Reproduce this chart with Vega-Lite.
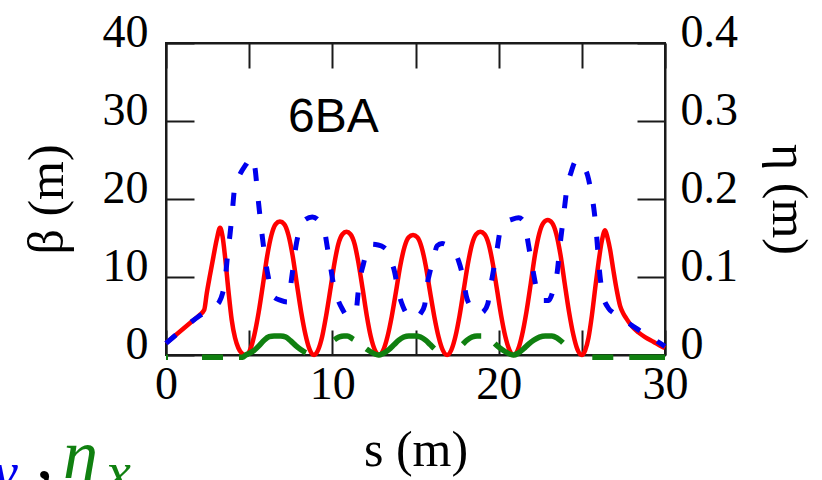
{
  "$schema": "https://vega.github.io/schema/vega-lite/v6.json",
  "width": 499,
  "height": 312,
  "autosize": {"type": "none"},
  "padding": {"left": 166, "top": 43, "right": 157, "bottom": 125},
  "background": "white",
  "config": {
    "view": {"stroke": "#1a1a1a", "strokeWidth": 2},
    "axis": {
      "domainColor": "#1a1a1a", "domainWidth": 2,
      "tickColor": "#1a1a1a", "tickWidth": 2, "grid": false,
      "labelFont": "Liberation Serif", "labelFontSize": 46, "labelColor": "#000",
      "titleFont": "Liberation Serif", "titleFontSize": 50, "titleFontWeight": "normal", "titleColor": "#000",
      "labelOverlap": false, "labelFlush": false
    }
  },
  "datasets": {
    "bx": [
      {"s":0,"b":1.5},{"s":0.5,"b":2.4},{"s":1.0,"b":3.3},{"s":1.5,"b":4.2},{"s":2.0,"b":5.1},{"s":2.3,"b":5.8},{"s":2.45,"b":7.9},{"s":2.65,"b":10.3},{"s":2.85,"b":12.6},{"s":3.05,"b":14.8},{"s":3.25,"b":16.3},{"s":3.4,"b":15.2},{"s":3.55,"b":12.6},{"s":3.75,"b":8.3},{"s":3.95,"b":4.5},{"s":4.15,"b":2.2},{"s":4.35,"b":0.9},{"s":4.55,"b":0.25},{"s":4.8,"b":0},
      {"s":5.06,"b":0.68},{"s":5.31,"b":2.57},{"s":5.57,"b":5.47},{"s":5.83,"b":9.06},{"s":6.08,"b":12.65},{"s":6.34,"b":15.39},{"s":6.59,"b":16.76},{"s":6.85,"b":17.1},{"s":7.11,"b":16.76},{"s":7.36,"b":15.39},{"s":7.62,"b":12.65},{"s":7.87,"b":9.06},{"s":8.13,"b":5.47},{"s":8.39,"b":2.57},{"s":8.64,"b":0.68},{"s":8.9,"b":0},
      {"s":9.14,"b":0.63},{"s":9.39,"b":2.37},{"s":9.63,"b":5.06},{"s":9.88,"b":8.37},{"s":10.12,"b":11.69},{"s":10.36,"b":14.22},{"s":10.61,"b":15.48},{"s":10.85,"b":15.8},{"s":11.09,"b":15.48},{"s":11.34,"b":14.22},{"s":11.58,"b":11.69},{"s":11.83,"b":8.37},{"s":12.07,"b":5.06},{"s":12.31,"b":2.37},{"s":12.56,"b":0.63},{"s":12.8,"b":0},
      {"s":13.06,"b":0.62},{"s":13.31,"b":2.31},{"s":13.57,"b":4.93},{"s":13.83,"b":8.16},{"s":14.08,"b":11.4},{"s":14.34,"b":13.86},{"s":14.59,"b":15.09},{"s":14.85,"b":15.4},{"s":15.11,"b":15.09},{"s":15.36,"b":13.86},{"s":15.62,"b":11.4},{"s":15.87,"b":8.16},{"s":16.13,"b":4.93},{"s":16.39,"b":2.31},{"s":16.64,"b":0.62},{"s":16.9,"b":0},
      {"s":17.15,"b":0.63},{"s":17.4,"b":2.37},{"s":17.65,"b":5.06},{"s":17.9,"b":8.37},{"s":18.15,"b":11.69},{"s":18.4,"b":14.22},{"s":18.65,"b":15.48},{"s":18.9,"b":15.8},{"s":19.15,"b":15.48},{"s":19.4,"b":14.22},{"s":19.65,"b":11.69},{"s":19.9,"b":8.37},{"s":20.15,"b":5.06},{"s":20.4,"b":2.37},{"s":20.65,"b":0.63},{"s":20.9,"b":0},
      {"s":21.16,"b":0.69},{"s":21.41,"b":2.6},{"s":21.67,"b":5.54},{"s":21.93,"b":9.17},{"s":22.18,"b":12.8},{"s":22.44,"b":15.57},{"s":22.69,"b":16.95},{"s":22.95,"b":17.3},{"s":23.21,"b":16.95},{"s":23.46,"b":15.57},{"s":23.72,"b":12.8},{"s":23.97,"b":9.17},{"s":24.23,"b":5.54},{"s":24.49,"b":2.6},{"s":24.74,"b":0.69},{"s":25.0,"b":0},
      {"s":25.2,"b":0.6},{"s":25.4,"b":2.2},{"s":25.6,"b":5.0},{"s":25.8,"b":8.5},{"s":26.0,"b":11.8},{"s":26.2,"b":14.6},{"s":26.4,"b":16.0},{"s":26.55,"b":15.0},{"s":26.7,"b":13.5},{"s":26.9,"b":10.8},{"s":27.1,"b":8.3},{"s":27.3,"b":6.3},{"s":27.5,"b":5.3},{"s":27.7,"b":4.6},{"s":28.0,"b":3.7},{"s":28.4,"b":2.9},{"s":28.8,"b":2.3},{"s":29.3,"b":1.7},{"s":29.8,"b":1.1},{"s":30.0,"b":0.9}
    ],
    "by": [
      {"s":0,"b":1.5},{"s":0.5,"b":2.4},{"s":1.0,"b":3.3},{"s":1.5,"b":4.2},{"s":2.0,"b":5.0},{"s":2.5,"b":5.7},{"s":2.95,"b":6.3},{"s":3.2,"b":6.8},{"s":3.4,"b":7.9},{"s":3.55,"b":9.5},{"s":3.7,"b":12.8},{"s":3.85,"b":15.5},{"s":3.97,"b":18.0},{"s":4.15,"b":21.8},{"s":4.45,"b":23.2},{"s":4.8,"b":24.4},{"s":5.15,"b":25.4},{"s":5.35,"b":24.0},{"s":5.5,"b":20.8},{"s":5.65,"b":17.8},{"s":5.8,"b":15.0},{"s":6.0,"b":11.8},{"s":6.15,"b":10.0},{"s":6.4,"b":7.6},{"s":6.9,"b":7.0},{"s":7.3,"b":6.8},{"s":7.45,"b":8.3},{"s":7.6,"b":10.6},{"s":7.8,"b":13.8},{"s":8.05,"b":16.2},{"s":8.4,"b":17.4},{"s":8.8,"b":17.7},{"s":9.2,"b":17.2},{"s":9.5,"b":16.2},{"s":9.7,"b":13.8},{"s":9.9,"b":11.2},{"s":10.1,"b":8.7},{"s":10.3,"b":7.3},{"s":10.6,"b":5.9},{"s":10.9,"b":5.0},{"s":11.2,"b":5.2},{"s":11.45,"b":6.0},{"s":11.55,"b":8.0},{"s":11.7,"b":10.2},{"s":11.85,"b":11.5},{"s":12.05,"b":13.2},{"s":12.3,"b":14.2},{"s":12.75,"b":14.1},{"s":13.1,"b":13.8},{"s":13.35,"b":13.2},{"s":13.55,"b":12.0},{"s":13.75,"b":10.6},{"s":13.95,"b":8.3},{"s":14.25,"b":6.2},{"s":14.6,"b":5.0},{"s":15.0,"b":4.7},{"s":15.3,"b":5.3},{"s":15.55,"b":6.4},{"s":15.7,"b":9.0},{"s":15.85,"b":10.5},{"s":16.05,"b":12.0},{"s":16.3,"b":14.0},{"s":16.6,"b":14.3},{"s":16.95,"b":14.0},{"s":17.2,"b":13.6},{"s":17.4,"b":13.0},{"s":17.6,"b":12.0},{"s":17.85,"b":10.0},{"s":18.05,"b":7.6},{"s":18.4,"b":6.0},{"s":18.8,"b":5.3},{"s":19.1,"b":5.6},{"s":19.35,"b":6.6},{"s":19.5,"b":8.6},{"s":19.7,"b":11.0},{"s":19.9,"b":13.5},{"s":20.1,"b":16.0},{"s":20.4,"b":17.0},{"s":20.8,"b":17.4},{"s":21.2,"b":17.6},{"s":21.45,"b":17.3},{"s":21.65,"b":15.8},{"s":21.85,"b":13.4},{"s":22.05,"b":11.0},{"s":22.3,"b":8.3},{"s":22.6,"b":7.0},{"s":23.0,"b":7.0},{"s":23.3,"b":8.5},{"s":23.5,"b":10.3},{"s":23.7,"b":14.3},{"s":23.9,"b":17.8},{"s":24.1,"b":21.3},{"s":24.35,"b":23.4},{"s":24.7,"b":25.0},{"s":25.05,"b":24.3},{"s":25.35,"b":23.0},{"s":25.55,"b":21.0},{"s":25.75,"b":18.3},{"s":25.9,"b":15.0},{"s":26.05,"b":11.0},{"s":26.25,"b":7.8},{"s":26.6,"b":6.0},{"s":26.9,"b":5.4},{"s":27.4,"b":4.6},{"s":28.0,"b":3.8},{"s":28.5,"b":3.1},{"s":29.0,"b":2.5},{"s":29.5,"b":1.8},{"s":30.0,"b":1.1}
    ],
    "eta": [
      {"s":0,"e":-0.003},{"s":4.6,"e":-0.003},{"s":4.8,"e":0},{"s":5.0,"e":0.002},{"s":5.3,"e":0.006},{"s":5.6,"e":0.012},{"s":5.9,"e":0.019},{"s":6.2,"e":0.0235},{"s":6.5,"e":0.0245},{"s":6.9,"e":0.0245},{"s":7.2,"e":0.023},{"s":7.5,"e":0.018},{"s":7.8,"e":0.012},{"s":8.1,"e":0.007},{"s":8.4,"e":0.003},{"s":8.65,"e":0.001},{"s":8.9,"e":0},
      {"s":9.15,"e":0.002},{"s":9.5,"e":0.007},{"s":9.8,"e":0.013},{"s":10.1,"e":0.019},{"s":10.4,"e":0.023},{"s":10.7,"e":0.0245},{"s":10.9,"e":0.0245},{"s":11.2,"e":0.021},{"s":11.5,"e":0.017},{"s":11.8,"e":0.012},{"s":12.1,"e":0.007},{"s":12.4,"e":0.003},{"s":12.6,"e":0.001},{"s":12.8,"e":0},
      {"s":13.05,"e":0.002},{"s":13.4,"e":0.007},{"s":13.7,"e":0.013},{"s":14.0,"e":0.019},{"s":14.3,"e":0.023},{"s":14.6,"e":0.0245},{"s":15.0,"e":0.0245},{"s":15.3,"e":0.023},{"s":15.6,"e":0.019},{"s":15.9,"e":0.013},{"s":16.2,"e":0.007},{"s":16.5,"e":0.003},{"s":16.7,"e":0.001},{"s":16.9,"e":0},
      {"s":17.15,"e":0.002},{"s":17.5,"e":0.007},{"s":17.8,"e":0.013},{"s":18.1,"e":0.019},{"s":18.4,"e":0.023},{"s":18.7,"e":0.0245},{"s":19.0,"e":0.0245},{"s":19.3,"e":0.023},{"s":19.6,"e":0.018},{"s":19.9,"e":0.012},{"s":20.2,"e":0.007},{"s":20.5,"e":0.003},{"s":20.7,"e":0.001},{"s":20.9,"e":0},
      {"s":21.15,"e":0.002},{"s":21.5,"e":0.008},{"s":21.8,"e":0.014},{"s":22.1,"e":0.019},{"s":22.45,"e":0.023},{"s":22.8,"e":0.0245},{"s":23.2,"e":0.0245},{"s":23.5,"e":0.022},{"s":23.8,"e":0.017},{"s":24.1,"e":0.011},{"s":24.4,"e":0.006},{"s":24.7,"e":0.002},{"s":25.0,"e":0},{"s":25.2,"e":-0.003},{"s":30,"e":-0.003}
    ],
    "label6ba": [{"s":7.34,"b":28.6,"t":"6BA"}],
    "etaSym": [{"s":-6.19,"b":-15.77,"t":"η"}],
    "etaSub": [{"s":-3.61,"b":-17.4,"t":"x"}],
    "comma": [{"s":-7.82,"b":-15.77,"t":","}],
    "ySub": [{"s":-8.9,"b":-17.4,"t":"y"}]
  },
  "layer": [
    {
      "data": {"name": "bx"},
      "mark": {"type": "line", "color": "#ff0000", "strokeWidth": 4.5, "interpolate": "monotone"},
      "encoding": {
        "x": {"field": "s", "type": "quantitative", "scale": {"domain": [0, 30], "nice": false},
          "axis": {"orient": "bottom", "values": [0,5,10,15,20,25,30], "labelExpr": "datum.value % 10 === 0 ? datum.label : ''", "tickSize": -25, "labelPadding": 32, "title": "s (m)", "titlePadding": 18}},
        "y": {"field": "b", "type": "quantitative", "scale": {"domain": [0, 40], "nice": false},
          "axis": {"orient": "left", "values": [0,10,20,30,40], "tickSize": -28, "labelPadding": 46, "labelBaseline": "alphabetic", "labelOffset": 3, "title": "β (m)", "titlePadding": 30}}
      }
    },
    {
      "data": {"name": "by"},
      "mark": {"type": "line", "color": "#0000ee", "strokeWidth": 5, "strokeDash": [13, 20], "strokeCap": "butt", "interpolate": "monotone"},
      "encoding": {
        "x": {"field": "s", "type": "quantitative", "scale": {"domain": [0, 30], "nice": false}, "axis": null},
        "y": {"field": "b", "type": "quantitative", "scale": {"domain": [0, 40], "nice": false}, "axis": null}
      }
    },
    {
      "data": {"name": "eta"},
      "mark": {"type": "line", "color": "#108010", "strokeWidth": 5.5, "strokeDash": [80, 34, 21, 16], "strokeDashOffset": 78, "strokeCap": "butt", "interpolate": "monotone"},
      "encoding": {
        "x": {"field": "s", "type": "quantitative", "scale": {"domain": [0, 30], "nice": false},
          "axis": {"orient": "top", "values": [0,5,10,15,20,25,30], "labels": false, "tickSize": -25, "title": null}},
        "y": {"field": "e", "type": "quantitative", "scale": {"domain": [0, 0.4], "nice": false},
          "axis": {"orient": "right", "values": [0,0.1,0.2,0.3,0.4], "labelExpr": "datum.value === 0 ? '0' : format(datum.value, '.1f')", "tickSize": -28, "labelPadding": 43, "labelBaseline": "alphabetic", "labelOffset": 3, "title": "η (m)", "titlePadding": 25}}
      }
    },
    {
      "data": {"name": "label6ba"},
      "mark": {"type": "text", "font": "Liberation Sans", "fontSize": 48, "align": "left", "baseline": "alphabetic", "color": "#000"},
      "encoding": {
        "x": {"field": "s", "type": "quantitative", "scale": {"domain": [0, 30], "nice": false}, "axis": null},
        "y": {"field": "b", "type": "quantitative", "scale": {"domain": [0, 40], "nice": false}, "axis": null},
        "text": {"field": "t"}
      }
    },
    {
      "data": {"name": "etaSym"},
      "mark": {"type": "text", "font": "Liberation Serif", "fontStyle": "italic", "fontSize": 70, "align": "left", "baseline": "alphabetic", "color": "#108010"},
      "encoding": {
        "x": {"field": "s", "type": "quantitative", "scale": {"domain": [0, 30], "nice": false}, "axis": null},
        "y": {"field": "b", "type": "quantitative", "scale": {"domain": [0, 40], "nice": false}, "axis": null},
        "text": {"field": "t"}
      }
    },
    {
      "data": {"name": "etaSub"},
      "mark": {"type": "text", "font": "Liberation Serif", "fontStyle": "italic", "fontSize": 56, "align": "left", "baseline": "alphabetic", "color": "#108010"},
      "encoding": {
        "x": {"field": "s", "type": "quantitative", "scale": {"domain": [0, 30], "nice": false}, "axis": null},
        "y": {"field": "b", "type": "quantitative", "scale": {"domain": [0, 40], "nice": false}, "axis": null},
        "text": {"field": "t"}
      }
    },
    {
      "data": {"name": "comma"},
      "mark": {"type": "text", "font": "Liberation Serif", "fontSize": 70, "align": "left", "baseline": "alphabetic", "color": "#000"},
      "encoding": {
        "x": {"field": "s", "type": "quantitative", "scale": {"domain": [0, 30], "nice": false}, "axis": null},
        "y": {"field": "b", "type": "quantitative", "scale": {"domain": [0, 40], "nice": false}, "axis": null},
        "text": {"field": "t"}
      }
    },
    {
      "data": {"name": "ySub"},
      "mark": {"type": "text", "font": "Liberation Serif", "fontStyle": "italic", "fontSize": 56, "align": "right", "baseline": "alphabetic", "color": "#0000ee"},
      "encoding": {
        "x": {"field": "s", "type": "quantitative", "scale": {"domain": [0, 30], "nice": false}, "axis": null},
        "y": {"field": "b", "type": "quantitative", "scale": {"domain": [0, 40], "nice": false}, "axis": null},
        "text": {"field": "t"}
      }
    }
  ],
  "resolve": {"scale": {"y": "independent"}, "axis": {"x": "independent"}}
}
